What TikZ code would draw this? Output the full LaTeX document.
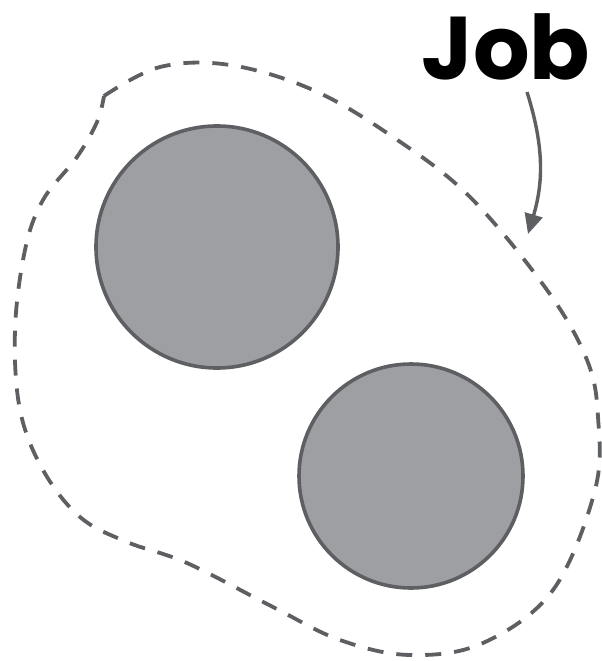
\documentclass[tikz,border=0pt]{standalone}
\usepackage{fontspec}
\usetikzlibrary{arrows.meta,positioning}
\newfontfamily\jobfont{Poppins}
\definecolor{slate}{HTML}{5E5F63}
\definecolor{pebble}{HTML}{9E9FA3}

\begin{document}
\begin{tikzpicture}[x=1pt, y=-1pt,
    proc/.style={circle, draw=slate, fill=pebble, line width=3.6pt, inner sep=0pt},
    jobline/.style={slate, line width=3.8pt, dash pattern=on 16pt off 13pt},
    jobarrow/.style={-{Triangle[length=20pt,width=18pt]}, slate, line width=3.4pt}]
  \useasboundingbox (0,0) rectangle (602,661);
  % the job boundary
  \draw[jobline] plot[smooth, tension=0.6] coordinates {
    (104,96) (160,67) (230,65) (313,90) (393,137) (470,197) (547,290) (587,360)
    (598,417) (595,490) (553,590) (483,643) (410,655) (340,640) (273,607)
    (187,563) (127,542) (80,517) (43,470) (20,410) (15,330) (25,250) (43,200)
    (77,157) (97,122) (104,96)};
  \node[proc, minimum size=242pt] (p1) at (217,247) {};
  \node[proc, minimum size=224pt] (p2) at (411,476) {};
  \node[anchor=base, inner sep=0pt, font=\jobfont\bfseries\fontsize{89}{89}\selectfont] (job) at (506,80) {Job};
  \coordinate (tail) at (527,92);
  \coordinate (hit) at (528,234);
  \draw[jobarrow] (tail) to[bend left=17] (hit);
\end{tikzpicture}
\end{document}
